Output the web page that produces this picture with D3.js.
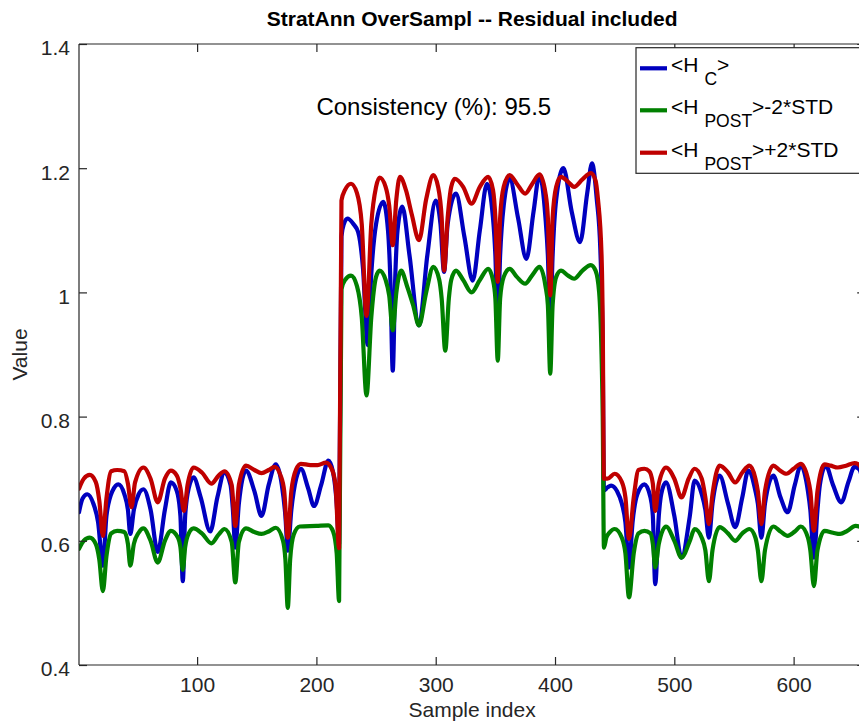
<!DOCTYPE html>
<html><head><meta charset="utf-8">
<script src="https://cdn.jsdelivr.net/npm/d3@7"></script>
<style>
body{margin:0;background:#fff;}
text{font-family:"Liberation Sans",Arial,Helvetica,sans-serif;}
</style></head>
<body><svg id="chart" width="859" height="725"></svg>
<script>
// ---------------- DATA ----------------
const titleText = "StratAnn OverSampl -- Residual included";
const xLabelText = "Sample index";
const yLabelText = "Value";
const annotation = "Consistency (%): 95.5";
const xTicks = [100, 200, 300, 400, 500, 600];
const yTicks = [0.4, 0.6, 0.8, 1.0, 1.2, 1.4];
const yTickLabels = ["0.4", "0.6", "0.8", "1", "1.2", "1.4"];
const xDomain = [1, 660];
const yDomain = [0.4, 1.4];

// <H_C>  (blue)  [sample, value]
const hcSeries = [
 [1,0.646],[4,0.668],[8,0.675],[13,0.660],[17,0.630],[21,0.560],[24,0.640],[29,0.680],[34,0.691],[39,0.675],
 [42,0.650],[44,0.611],[47,0.650],[51,0.675],[55,0.683],[61,0.650],[67,0.582],[73,0.650],[78,0.694],[83,0.680],
 [86,0.640],[88,0.535],[90,0.640],[93,0.685],[97,0.702],[103,0.670],[111,0.615],[117,0.670],[123,0.710],[128,0.690],
 [130,0.650],[132,0.589],[135,0.660],[141,0.713],[148,0.680],[154,0.640],[160,0.690],[166,0.723],[171,0.690],[174,0.640],
 [176,0.584],[179,0.650],[183,0.700],[187,0.716],[193,0.685],[198,0.656],[204,0.690],[210,0.729],[214,0.710],[217,0.660],
 [219,0.595],
 [221,1.090],[223,1.110],[226,1.119],[231,1.110],[235,1.097],[239,1.040],[243,0.915],[246,1.030],[250,1.110],[256,1.146],
 [260,1.100],[262,1.020],[264,0.874],[266,1.020],[268,1.100],[272,1.138],[278,1.060],[286,0.947],[293,1.060],[300,1.148],
 [304,1.110],[307,1.033],[310,1.110],[317,1.159],[324,1.090],[331,1.019],[337,1.100],[343,1.175],[348,1.120],[350,1.060],
 [352,0.950],[354,1.060],[357,1.140],[362,1.183],[369,1.120],[376,1.054],[382,1.130],[387,1.189],[392,1.120],[394,1.060],
 [396,0.950],[398,1.060],[401,1.150],[407,1.200],[414,1.130],[421,1.081],[427,1.160],[431,1.208],[435,1.150],[438,1.068],
 [440,0.900],
 [441,0.681],[444,0.686],[447,0.689],[452,0.680],[456,0.660],[459,0.630],[462,0.557],[465,0.630],[469,0.675],[475,0.691],
 [480,0.670],[482,0.640],[484,0.530],[487,0.640],[489,0.675],[493,0.694],[500,0.640],[506,0.573],[513,0.640],[517,0.697],
 [523,0.675],[526,0.650],[529,0.605],[532,0.660],[538,0.705],[545,0.660],[551,0.622],[557,0.670],[562,0.713],[568,0.680],
 [570,0.660],[573,0.605],[576,0.660],[583,0.705],[589,0.670],[595,0.646],[601,0.690],[606,0.721],[612,0.680],[614,0.650],
 [617,0.573],[620,0.650],[622,0.690],[627,0.721],[633,0.690],[640,0.662],[646,0.695],[651,0.719],[655,0.715],[658,0.690],
 [660,0.600]
];

// <H_POST>-2*STD  (green)
const loSeries = [
 [1,0.587],[5,0.600],[10,0.605],[15,0.595],[18,0.570],[21,0.519],[24,0.575],[28,0.612],[33,0.616],[39,0.614],
 [42,0.595],[44,0.560],[47,0.595],[51,0.613],[55,0.620],[61,0.600],[67,0.565],[73,0.600],[78,0.616],[84,0.605],
 [86,0.590],[88,0.553],[90,0.590],[93,0.612],[97,0.620],[104,0.612],[112,0.596],[118,0.610],[123,0.619],[129,0.598],
 [132,0.533],[135,0.598],[141,0.620],[148,0.614],[154,0.611],[160,0.615],[166,0.621],[172,0.600],[174,0.570],[176,0.492],
 [178,0.570],[181,0.610],[186,0.623],[200,0.624],[210,0.625],[214,0.615],[217,0.580],[219,0.503],
 [221,1.005],[224,1.020],[229,1.027],[234,1.010],[238,0.960],[242,0.834],[246,0.960],[250,1.025],[253,1.035],[258,1.020],
 [261,0.995],[264,0.939],[267,1.000],[271,1.035],[276,1.010],[281,0.980],[286,0.947],[292,1.000],[298,1.041],[303,1.020],
 [305,0.990],[308,0.906],[311,0.990],[313,1.020],[317,1.035],[323,1.020],[330,1.000],[337,1.020],[344,1.038],[348,1.020],
 [350,0.990],[352,0.890],[354,0.990],[357,1.025],[362,1.038],[368,1.025],[375,1.014],[381,1.028],[387,1.041],[392,1.010],
 [394,0.980],[396,0.869],[398,0.980],[401,1.025],[405,1.035],[411,1.027],[416,1.022],[423,1.035],[430,1.044],[434,1.035],
 [437,1.000],[439,0.900],[440,0.800],
 [441,0.589],[443,0.605],[446,0.614],[450,0.619],[456,0.605],[459,0.580],[462,0.509],[466,0.580],[470,0.612],[475,0.616],
 [480,0.612],[482,0.595],[484,0.557],[487,0.595],[493,0.623],[500,0.600],[506,0.573],[513,0.600],[517,0.619],[523,0.605],
 [526,0.585],[529,0.535],[532,0.585],[538,0.622],[545,0.612],[551,0.600],[557,0.612],[563,0.619],[568,0.605],[570,0.585],
 [573,0.535],[576,0.585],[583,0.623],[589,0.615],[595,0.608],[601,0.615],[606,0.623],[612,0.605],[614,0.585],[617,0.527],
 [620,0.585],[626,0.616],[633,0.613],[639,0.611],[645,0.616],[652,0.624],[656,0.622],[658,0.610],[660,0.540]
];

// <H_POST>+2*STD  (red)
const hiSeries = [
 [1,0.684],[5,0.700],[10,0.706],[15,0.695],[18,0.665],[21,0.608],[24,0.668],[28,0.712],[33,0.714],[39,0.712],
 [42,0.692],[45,0.654],[48,0.694],[55,0.718],[61,0.700],[67,0.662],[73,0.700],[78,0.713],[83,0.705],[86,0.685],
 [89,0.648],[92,0.690],[97,0.718],[104,0.710],[112,0.692],[118,0.705],[123,0.712],[129,0.690],[132,0.624],[135,0.690],
 [141,0.721],[148,0.714],[154,0.709],[160,0.714],[165,0.719],[170,0.705],[173,0.680],[176,0.605],[179,0.680],[183,0.715],
 [187,0.724],[195,0.722],[201,0.722],[208,0.726],[213,0.715],[216,0.690],[219,0.588],
 [221,1.148],[224,1.165],[229,1.175],[234,1.160],[238,1.110],[242,0.962],[246,1.110],[250,1.170],[253,1.185],[258,1.170],
 [261,1.140],[264,1.076],[267,1.150],[270,1.186],[275,1.165],[280,1.125],[286,1.084],[292,1.150],[298,1.189],[302,1.170],
 [305,1.120],[307,1.035],[310,1.120],[313,1.170],[316,1.183],[323,1.170],[330,1.143],[337,1.170],[344,1.186],[348,1.165],
 [350,1.120],[352,1.017],[354,1.120],[357,1.170],[362,1.189],[368,1.175],[375,1.159],[381,1.175],[387,1.190],[392,1.160],
 [394,1.120],[396,0.995],[398,1.120],[401,1.170],[405,1.186],[411,1.178],[416,1.170],[423,1.182],[430,1.192],[434,1.180],
 [436,1.150],[439,1.060],[440,0.950],
 [441,0.700],[444,0.700],[450,0.708],[456,0.695],[459,0.670],[462,0.603],[466,0.670],[470,0.714],[475,0.716],[479,0.712],
 [482,0.692],[484,0.648],[487,0.692],[493,0.718],[500,0.700],[506,0.670],[512,0.700],[517,0.716],[523,0.700],[526,0.670],
 [529,0.627],[532,0.675],[538,0.721],[545,0.710],[551,0.694],[557,0.710],[563,0.721],[568,0.700],[570,0.680],[573,0.627],
 [576,0.680],[583,0.721],[588,0.714],[594,0.708],[600,0.716],[606,0.724],[612,0.700],[614,0.680],[617,0.616],[620,0.680],
 [626,0.723],[631,0.721],[637,0.718],[644,0.721],[651,0.725],[655,0.722],[658,0.700],[660,0.600]
];

const seriesNames = ["C", "POST", "POST"];
const seriesSuffix = [">", ">-2*STD", ">+2*STD"];
const seriesColors = ["#0000bf", "#008000", "#bf0000"];

// ---------------- DRAWING ----------------
const svg = d3.select("#chart");
const M = {left: 79, top: 44, right: 865.2, bottom: 665};
const x = d3.scaleLinear().domain(xDomain).range([M.left, M.right]);
const y = d3.scaleLinear().domain(yDomain).range([M.bottom, M.top]);
const axisColor = "#262626";
const tickLen = 8;

svg.append("rect").attr("x",0).attr("y",0).attr("width",859).attr("height",725).attr("fill","#fff");

svg.append("clipPath").attr("id","clip").append("rect")
  .attr("x", M.left).attr("y", M.top).attr("width", M.right-M.left).attr("height", M.bottom-M.top);

const line = d3.line().x(d=>x(d[0])).y(d=>y(d[1])).curve(d3.curveMonotoneX);
const g = svg.append("g").attr("clip-path","url(#clip)");
[hcSeries, loSeries, hiSeries].forEach((s,i)=>{
  g.append("path").datum(s).attr("d", line)
    .attr("fill","none").attr("stroke", seriesColors[i])
    .attr("stroke-width", 4.2).attr("stroke-linejoin","round").attr("stroke-linecap","round");
});

const bottomAxis = d3.axisBottom(x).tickValues(xTicks).tickSize(-tickLen).tickPadding(12).tickFormat(d3.format("d"));
const topAxis = d3.axisTop(x).tickValues(xTicks).tickSize(-tickLen).tickFormat("");
const leftAxis = d3.axisLeft(y).tickValues(yTicks).tickSize(-tickLen).tickPadding(9).tickFormat((d,i)=>yTickLabels[i]);
const rightAxis = d3.axisRight(y).tickValues(yTicks).tickSize(-tickLen).tickFormat("");

function styleAxis(sel){
  sel.selectAll("path").attr("stroke", axisColor).attr("stroke-width",1.2);
  sel.selectAll("line").attr("stroke", axisColor).attr("stroke-width",1.2);
  sel.selectAll("text").attr("fill", axisColor).style("font-size","21px").style("font-family","Liberation Sans, Arial, sans-serif");
}
const gb = svg.append("g").attr("transform",`translate(0,${M.bottom})`).call(bottomAxis); styleAxis(gb);
gb.selectAll("path").attr("d", `M${M.left},0H${M.right}`);
const gt = svg.append("g").attr("transform",`translate(0,${M.top})`).call(topAxis); styleAxis(gt);
gt.selectAll("path").attr("d", `M${M.left},0H${M.right}`);
const gl = svg.append("g").attr("transform",`translate(${M.left},0)`).call(leftAxis); styleAxis(gl);
gl.selectAll("path").attr("d", `M0,${M.top}V${M.bottom}`);
gl.selectAll("text").attr("dy","0.52em");
const gr = svg.append("g").attr("transform",`translate(${M.right},0)`).call(rightAxis); styleAxis(gr);
gr.selectAll("path").attr("d", `M0,${M.top}V${M.bottom}`);
gb.selectAll("text").attr("dy","0.71em");

svg.append("text").attr("x", (M.left+M.right)/2).attr("y", 26).attr("text-anchor","middle")
  .style("font-size","21px").style("font-weight","bold").attr("fill","#000").text(titleText);
svg.append("text").attr("x", (M.left+M.right)/2).attr("y", 717).attr("text-anchor","middle")
  .style("font-size","21px").attr("fill", axisColor).text(xLabelText);
svg.append("text").attr("transform",`translate(27,${(M.top+M.bottom)/2}) rotate(-90)`).attr("text-anchor","middle")
  .style("font-size","21px").attr("fill", axisColor).text(yLabelText);

svg.append("text").attr("x", x(200)).attr("y", y(1.3)).attr("dy","0.36em")
  .style("font-size","24px").attr("fill","#000").text(annotation);

const lg = svg.append("g");
lg.append("rect").attr("x",636).attr("y",47.7).attr("width",230).attr("height",125.6)
  .attr("fill","#fff").attr("stroke",axisColor).attr("stroke-width",1.2);
const rowsY = [68.3, 110.3, 152.7];
rowsY.forEach((ry,i)=>{
  lg.append("line").attr("x1",640).attr("x2",667).attr("y1",ry).attr("y2",ry)
    .attr("stroke", seriesColors[i]).attr("stroke-width",4.2);
  const t = lg.append("text").attr("x",671).attr("y",ry+4).style("font-size","21px").attr("fill","#000");
  t.append("tspan").text("<H");
  t.append("tspan").attr("dx",6).attr("dy",13).style("font-size","17.5px").text(seriesNames[i]);
  t.append("tspan").attr("dy",-13).text(seriesSuffix[i]);
});
</script>
</body></html>
